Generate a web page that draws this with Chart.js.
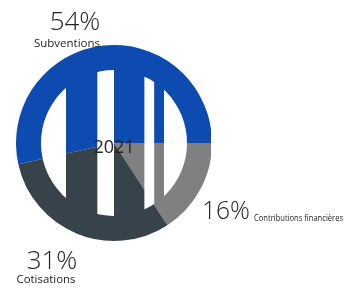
<!DOCTYPE html>
<html>
<head>
<meta charset="utf-8">
<script src="https://cdn.jsdelivr.net/npm/chart.js@4/dist/chart.umd.min.js"></script>
<style>
html,body{margin:0;padding:0;background:#fff;}
#wrap{position:relative;width:347px;height:288px;}
</style>
</head>
<body>
<div id="wrap"><canvas id="c" width="347" height="288"></canvas></div>
<script>
const categories = ["Contributions financières", "Cotisations", "Subventions"];
const values = [16, 31, 54];
const percentLabels = ["16%", "31%", "54%"];
const centerLabel = "2021";
const colors = ["#808080", "#36434a", "#0d4bb0"];

const FONT = "'Open Sans', 'Noto Sans', sans-serif";
const TEXT = "#252423";

const stripePlugin = {
  id: "stripes",
  afterDatasetsDraw(chart) {
    const meta = chart.getDatasetMeta(0);
    const a = meta.data[0];
    const R = a.outerRadius, cx = a.x, cy = a.y;
    const r = R * 0.745;
    const ctx = chart.ctx;
    const white = [[-1, -0.49], [-0.17, 0], [0.31, 0.41], [0.51, 1]];
    ctx.save();
    ctx.beginPath();
    ctx.arc(cx, cy, r, 0, Math.PI * 2);
    ctx.clip();
    ctx.fillStyle = "#ffffff";
    white.forEach(([a0, a1]) => {
      const near = (a0 <= 0 && a1 >= 0) ? 0 : Math.min(Math.abs(a0), Math.abs(a1)) * R;
      const h = Math.sqrt(Math.max(r * r - near * near, 0));
      ctx.fillRect(cx + a0 * R, cy - h, (a1 - a0) * R, 2 * h);
    });
    ctx.restore();
  },
  afterDraw(chart) {
    const meta = chart.getDatasetMeta(0);
    const a = meta.data[0];
    const ctx = chart.ctx;
    ctx.save();
    ctx.fillStyle = TEXT;
    ctx.textBaseline = "alphabetic";
    ctx.textAlign = "center";
    ctx.font = "400 18px " + FONT;
    ctx.fillText(centerLabel, a.x, a.y + 10);
    ctx.font = "300 26px " + FONT;
    ctx.fillText(percentLabels[2], 75, 30);
    ctx.font = "400 11.5px " + FONT;
    ctx.fillText(categories[2], 67, 47, 67);
    ctx.font = "300 26px " + FONT;
    ctx.fillText(percentLabels[1], 52, 269);
    ctx.font = "400 11.5px " + FONT;
    ctx.fillText(categories[1], 46, 283, 59);
    ctx.textAlign = "left";
    ctx.font = "300 26px " + FONT;
    ctx.fillText(percentLabels[0], 202, 219, 48);
    ctx.font = "400 8.5px " + FONT;
    ctx.fillText(categories[0], 254, 221, 89);
    ctx.restore();
  }
};

new Chart(document.getElementById("c"), {
  type: "pie",
  data: {
    labels: categories,
    datasets: [{
      data: values,
      backgroundColor: colors,
      borderWidth: 0,
      clip: { left: false, top: false, bottom: false, right: -1 }
    }]
  },
  options: {
    responsive: false,
    animation: false,
    rotation: 90,
    layout: { padding: { left: 16, right: 135, top: 45, bottom: 47 } },
    plugins: {
      legend: { display: false },
      tooltip: { enabled: false }
    }
  },
  plugins: [stripePlugin]
});
</script>
</body>
</html>
